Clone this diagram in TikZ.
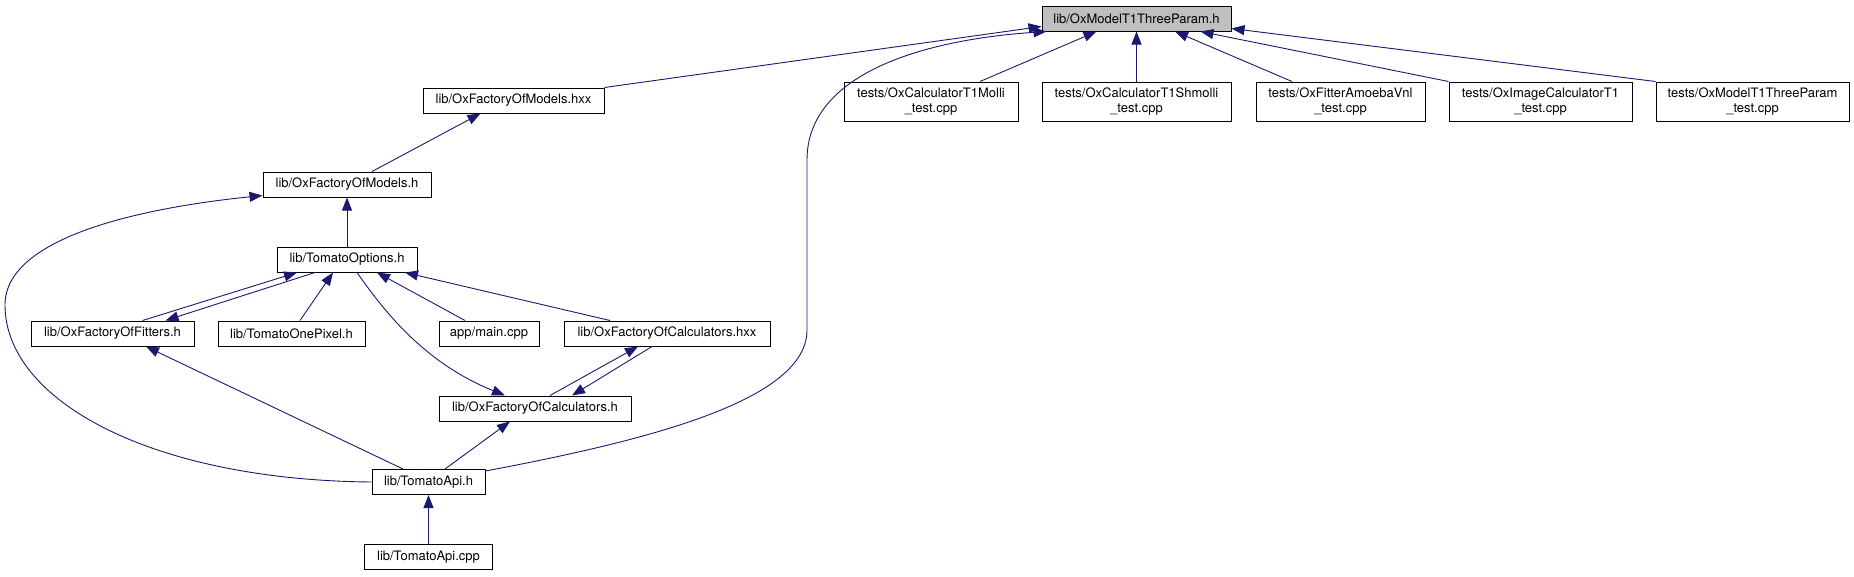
\documentclass[tikz,border=0pt]{standalone}
\usepackage{fontspec}
\setmainfont{TeX Gyre Heros}
\usepackage{tikz}
\usetikzlibrary{arrows.meta,calc}
\definecolor{edgeblue}{HTML}{191970}
\definecolor{maingray}{HTML}{BFBFBF}

\begin{document}
\begin{tikzpicture}[
  x=1pt,y=-1pt,
  >={Triangle[length=13pt,width=10pt]},
  file/.style={draw=black,line width=1pt,fill=white,minimum height=25pt,inner sep=0pt,align=center,font=\fontsize{13}{15}\selectfont},
  test/.style={file,minimum height=39pt},
  dep/.style={->,color=edgeblue,line width=0.9pt}
]
\useasboundingbox (0,0) rectangle (1854,576);
\node[file,fill=maingray,minimum width=189] (model) at (1136.5,18.5) {lib/OxModelT1ThreeParam.h};
\node[test,minimum width=174] (molli) at (931,101.5) {tests/OxCalculatorT1Molli\\\_test.cpp};
\node[test,minimum width=189] (shmolli) at (1136.5,101.5) {tests/OxCalculatorT1Shmolli\\\_test.cpp};
\node[test,minimum width=169] (amoeba) at (1340.5,101.5) {tests/OxFitterAmoebaVnl\\\_test.cpp};
\node[test,minimum width=183] (imgcalc) at (1540.5,101.5) {tests/OxImageCalculatorT1\\\_test.cpp};
\node[test,minimum width=193] (modeltest) at (1752.5,101.5) {tests/OxModelT1ThreeParam\\\_test.cpp};
\node[file,minimum width=181] (hxx) at (513.5,100.5) {lib/OxFactoryOfModels.hxx};
\node[file,minimum width=168] (modelsh) at (347,184.5) {lib/OxFactoryOfModels.h};
\node[file,minimum width=140] (options) at (347,259.5) {lib/TomatoOptions.h};
\node[file,minimum width=163] (fitters) at (112.5,333.5) {lib/OxFactoryOfFitters.h};
\node[file,minimum width=147] (onepixel) at (291.5,333.5) {lib/TomatoOnePixel.h};
\node[file,minimum width=100] (maincpp) at (489,333.5) {app/main.cpp};
\node[file,minimum width=206] (calchxx) at (667,333.5) {lib/OxFactoryOfCalculators.hxx};
\node[file,minimum width=192] (calch) at (535,408.5) {lib/OxFactoryOfCalculators.h};
\node[file,minimum width=113] (apih) at (428.5,482) {lib/TomatoApi.h};
\node[file,minimum width=128] (apicpp) at (428.5,557) {lib/TomatoApi.cpp};

\draw[dep] (hxx.north east) -- ($(model.south west)+(0,-5)$);
\draw[dep] ($(molli.north)+(49,0)$) -- ($(model.south)+(-40,0)$);
\draw[dep] (shmolli) -- (model);
\draw[dep] ($(amoeba.north)+(-48.5,0)$) -- ($(model.south)+(38.5,0)$);
\draw[dep] (imgcalc.north west) -- ($(model.south)+(64,0)$);
\draw[dep] (modeltest.north west) -- ($(model.south east)+(0,-3)$);
\draw[dep] ($(apih.north east)+(0,2)$) .. controls (650,440) and (807,400) .. (807,330) -- (807,160) .. controls (807,75) and (920,40) .. ($(model.south west)+(5,0)$);
\draw[dep] ($(modelsh.north)+(25,0)$) -- ($(hxx.south)+(-33,0)$);
\draw[dep] (options) -- (modelsh);
\draw[dep] (apih.west) .. controls (150,480) and (5,400) .. (5,305) .. controls (5,235) and (150,207) .. ($(modelsh.south west)+(0,-2)$);
\draw[dep] ($(fitters.north)+(30,0)$) -- ($(options.south)+(-50,0)$);
\draw[dep] ($(options.south)+(-32,0)$) -- ($(fitters.north)+(53,0)$);
\draw[dep] ($(onepixel.north)+(8.5,0)$) -- ($(options.south)+(-14,0)$);
\draw[dep] ($(options.south)+(10,0)$) .. controls (390,320) and (430,365) .. ($(calch.north)+(-30,0)$);
\draw[dep] ($(maincpp.north)+(-24,0)$) -- ($(options.south)+(30,0)$);
\draw[dep] ($(calchxx.north)+(-57,0)$) -- ($(options.south)+(58,0)$);
\draw[dep] ($(calch.north)+(15,0)$) -- ($(calchxx.south)+(-29,0)$);
\draw[dep] ($(calchxx.south)+(-15,0)$) -- ($(calch.north)+(37,0)$);
\draw[dep] ($(apih.north)+(16.5,0)$) -- ($(calch.south)+(-25,0)$);
\draw[dep] ($(apih.north)+(-25.5,0)$) -- ($(fitters.south)+(33.5,0)$);
\draw[dep] (apicpp) -- (apih);
\end{tikzpicture}
\end{document}
